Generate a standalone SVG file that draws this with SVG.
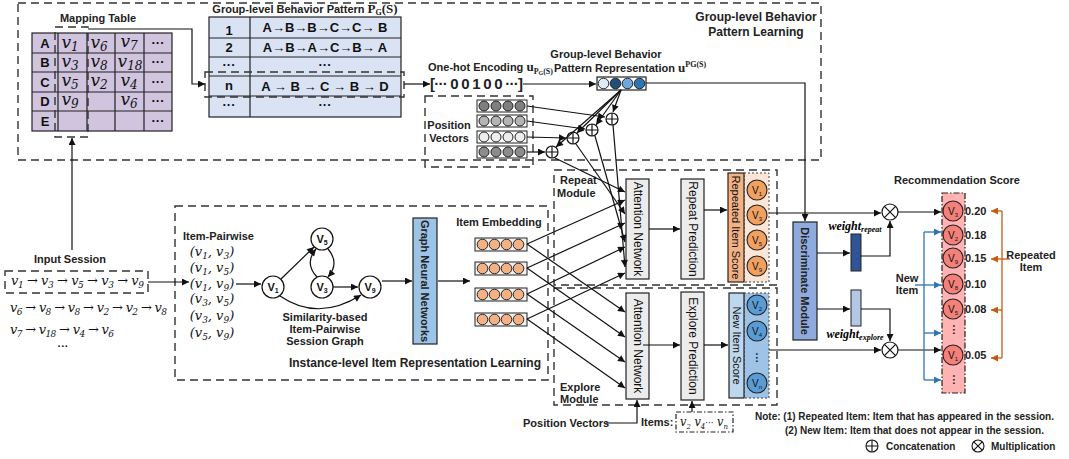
<svg xmlns="http://www.w3.org/2000/svg" width="1069" height="459" viewBox="0 0 1069 459">
<style>
.lbl{font-family:"Liberation Sans",Arial,sans-serif;font-weight:bold;font-size:11px;fill:#222}
.reg{font-family:"Liberation Sans",Arial,sans-serif;font-size:12px;fill:#111}
.m{font-family:"DejaVu Serif","Liberation Serif",serif;font-style:italic;font-size:13px;fill:#111}
.dash{fill:none;stroke:#333;stroke-width:1.4;stroke-dasharray:8,5}
.ln{fill:none;stroke:#111;stroke-width:1.2}
.bx{stroke:#222;stroke-width:1.2}
.cell{fill:none;stroke:#222;stroke-width:1.2}
.tc{font-family:"Liberation Sans",Arial,sans-serif;font-weight:bold;font-size:13px;fill:#111;text-anchor:middle}
.nd{fill:#fff;stroke:#111;stroke-width:1.2}
.nl{font-family:"Liberation Sans",Arial,sans-serif;font-weight:bold;font-size:11px;fill:#111;text-anchor:middle}
.cn{font-family:"Liberation Sans",Arial,sans-serif;font-size:10px;fill:#111;text-anchor:middle}
</style>
<defs>
<marker id="ah" viewBox="0 0 10 10" refX="10" refY="5" markerWidth="8" markerHeight="7" markerUnits="userSpaceOnUse" orient="auto"><path d="M0,0 L10,5 L0,10 z" fill="#111"/></marker>
<marker id="ao" viewBox="0 0 10 10" refX="10" refY="5" markerWidth="8" markerHeight="7" markerUnits="userSpaceOnUse" orient="auto"><path d="M0,0 L10,5 L0,10 z" fill="#c55a11"/></marker>
<marker id="ab" viewBox="0 0 10 10" refX="10" refY="5" markerWidth="8" markerHeight="7" markerUnits="userSpaceOnUse" orient="auto"><path d="M0,0 L10,5 L0,10 z" fill="#2e75b6"/></marker>
<g id="oplus"><circle r="6" fill="#fff" stroke="#111" stroke-width="1.2"/><path d="M-6,0 H6 M0,-6 V6" stroke="#111" stroke-width="1.2"/></g>
<g id="otimes"><circle r="8" fill="#fff" stroke="#111" stroke-width="1.2"/><path d="M-5.6,-5.6 L5.6,5.6 M-5.6,5.6 L5.6,-5.6" stroke="#111" stroke-width="1.2"/></g>
</defs>

<g id="group-level">
<rect x="18" y="3" width="803" height="157" class="dash"/>
<text x="756" y="21" class="lbl" style="font-size:12px" text-anchor="middle">Group-level Behavior</text>
<text x="756" y="36" class="lbl" style="font-size:12px" text-anchor="middle">Pattern Learning</text>
</g>

<g id="mapping-table">
<text x="98" y="22" class="lbl" text-anchor="middle">Mapping Table</text>
<rect x="32" y="33" width="140" height="98" fill="#d0c4de" stroke="#222" stroke-width="1.2"/>
<path class="cell" d="M32,53 H172 M32,72 H172 M32,92 H172 M32,111 H172 M58,33 V131 M87,33 V131 M115,33 V131 M144,33 V131"/>
<g class="tc"><text x="45" y="48">A</text><text x="45" y="67">B</text><text x="45" y="87">C</text><text x="45" y="106">D</text><text x="45" y="126">E</text>
<text x="158" y="47">···</text><text x="158" y="66">···</text><text x="158" y="86">···</text><text x="158" y="105">···</text><text x="158" y="125">···</text></g>
<g class="m" style="font-size:17px" text-anchor="middle">
<text x="70" y="48">v<tspan font-size="12" dy="3">1</tspan></text>
<text x="99" y="48">v<tspan font-size="12" dy="3">6</tspan></text>
<text x="129" y="47">v<tspan font-size="12" dy="3">7</tspan></text>
<text x="70" y="67">v<tspan font-size="12" dy="3">3</tspan></text>
<text x="99" y="67">v<tspan font-size="12" dy="3">8</tspan></text>
<text x="130" y="67">v<tspan font-size="12" dy="3">18</tspan></text>
<text x="70" y="86">v<tspan font-size="12" dy="3">5</tspan></text>
<text x="99" y="86">v<tspan font-size="12" dy="3">2</tspan></text>
<text x="129" y="86">v<tspan font-size="12" dy="3">4</tspan></text>
<text x="70" y="105">v<tspan font-size="12" dy="3">9</tspan></text>
<text x="129" y="105">v<tspan font-size="12" dy="3">6</tspan></text>
</g>
<rect x="55" y="27" width="33" height="110" class="dash" stroke-width="1.3" stroke-dasharray="6,4"/>
</g>

<g id="pattern-table">
<text x="305" y="13" class="lbl" text-anchor="middle">Group-level Behavior Pattern <tspan font-family="Liberation Serif" font-size="13">P</tspan><tspan font-family="Liberation Serif" font-size="8" dy="2">G</tspan><tspan font-family="Liberation Serif" font-size="13" dy="-2">(S)</tspan></text>
<rect x="209" y="17" width="192" height="100" fill="#dae3f3" stroke="#222" stroke-width="1.2"/>
<path class="cell" d="M209,38 H401 M209,57 H401 M209,76 H401 M209,96 H401 M250,17 V117"/>
<g class="tc"><text x="229" y="35">1</text><text x="229" y="52">2</text><text x="229" y="69">···</text><text x="229" y="90">n</text><text x="229" y="109">···</text>
<text x="325" y="32">A→B→B→C→C→ B</text><text x="325" y="52">A→B→A→C→B→ A</text><text x="325" y="69">···</text><text x="325" y="91">A → B → C → B → D</text><text x="325" y="109">···</text></g>
<rect x="205" y="72" width="199" height="25" class="dash" stroke-width="1.3" stroke-dasharray="7,4"/>
</g>

<g id="onehot">
<text x="428" y="71" class="lbl">One-hot Encoding <tspan font-family="Liberation Serif" font-size="13">u</tspan><tspan font-family="Liberation Serif" font-size="8" dy="3">P</tspan><tspan font-family="Liberation Serif" font-size="6" dy="1">G</tspan><tspan font-family="Liberation Serif" font-size="8" dy="-1">(S)</tspan></text>
<text x="430" y="89" class="lbl" style="font-size:15px" textLength="93" lengthAdjust="spacing">[··· 0 0 1 0 0 ···]</text>
</g>

<g id="pattern-rep">
<text x="606" y="58" class="lbl" text-anchor="middle">Group-level Behavior</text>
<text x="554" y="72" class="lbl">Pattern Representation <tspan font-family="Liberation Serif" font-size="13">u</tspan><tspan font-family="Liberation Serif" font-size="8" dy="-5">PG(S)</tspan></text>
<rect x="597" y="77" width="49" height="13" fill="#fff" stroke="#222" stroke-width="1.2"/>
<circle cx="603.5" cy="83.5" r="5.3" fill="#deebf7" stroke="#222"/>
<circle cx="615.5" cy="83.5" r="5.3" fill="#1f4e79" stroke="#222"/>
<circle cx="627.5" cy="83.5" r="5.3" fill="#6fa8dc" stroke="#222"/>
<circle cx="639.5" cy="83.5" r="5.3" fill="#2e75b6" stroke="#222"/>
</g>

<g id="position-vectors">
<rect x="425" y="96" width="108" height="71" class="dash" stroke-width="1.3" stroke-dasharray="6,4"/>
<text x="449" y="129" class="lbl" text-anchor="middle">Position</text>
<text x="449" y="142" class="lbl" text-anchor="middle">Vectors</text>
<g stroke="#222" stroke-width="1">
<rect x="477" y="100" width="50" height="12" fill="#fff"/>
<circle cx="484" cy="106" r="5" fill="#7f7f7f"/><circle cx="496" cy="106" r="5" fill="#7f7f7f"/><circle cx="508" cy="106" r="5" fill="#7f7f7f"/><circle cx="520" cy="106" r="5" fill="#7f7f7f"/>
<rect x="477" y="115" width="50" height="12" fill="#fff"/>
<circle cx="484" cy="121" r="5" fill="#b4b4b4"/><circle cx="496" cy="121" r="5" fill="#b4b4b4"/><circle cx="508" cy="121" r="5" fill="#b4b4b4"/><circle cx="520" cy="121" r="5" fill="#b4b4b4"/>
<rect x="477" y="131" width="50" height="12" fill="#fff"/>
<circle cx="484" cy="137" r="5" fill="#eeeeee"/><circle cx="496" cy="137" r="5" fill="#eeeeee"/><circle cx="508" cy="137" r="5" fill="#eeeeee"/><circle cx="520" cy="137" r="5" fill="#eeeeee"/>
<rect x="477" y="146" width="50" height="12" fill="#fff"/>
<circle cx="484" cy="152" r="5" fill="#8c8c8c"/><circle cx="496" cy="152" r="5" fill="#8c8c8c"/><circle cx="508" cy="152" r="5" fill="#8c8c8c"/><circle cx="520" cy="152" r="5" fill="#8c8c8c"/>
</g>
</g>

<g id="concat-nodes">
<use href="#oplus" x="552" y="152"/>
<use href="#oplus" x="573" y="138"/>
<use href="#oplus" x="592" y="130"/>
<use href="#oplus" x="612" y="119"/>
</g>

<g id="input-session">
<text x="70" y="263" class="lbl" text-anchor="middle">Input Session</text>
<rect x="5" y="271" width="143" height="22" class="dash" stroke-width="1.3" stroke-dasharray="7,4"/>
<text x="11" y="285" class="m" textLength="133" lengthAdjust="spacing">v<tspan font-size="9" dy="3">1</tspan><tspan dy="-3" font-style="normal"> → </tspan>v<tspan font-size="9" dy="3">3</tspan><tspan dy="-3" font-style="normal"> → </tspan>v<tspan font-size="9" dy="3">5</tspan><tspan dy="-3" font-style="normal"> → </tspan>v<tspan font-size="9" dy="3">3</tspan><tspan dy="-3" font-style="normal"> → </tspan>v<tspan font-size="9" dy="3">9</tspan></text>
<text x="10" y="312" class="m" textLength="157" lengthAdjust="spacing">v<tspan font-size="9" dy="3">6</tspan><tspan dy="-3" font-style="normal"> → </tspan>v<tspan font-size="9" dy="3">8</tspan><tspan dy="-3" font-style="normal"> → </tspan>v<tspan font-size="9" dy="3">8</tspan><tspan dy="-3" font-style="normal"> → </tspan>v<tspan font-size="9" dy="3">2</tspan><tspan dy="-3" font-style="normal"> → </tspan>v<tspan font-size="9" dy="3">2</tspan><tspan dy="-3" font-style="normal"> → </tspan>v<tspan font-size="9" dy="3">8</tspan></text>
<text x="10" y="334" class="m" textLength="104" lengthAdjust="spacing">v<tspan font-size="9" dy="3">7</tspan><tspan dy="-3" font-style="normal"> → </tspan>v<tspan font-size="9" dy="3">18</tspan><tspan dy="-3" font-style="normal"> → </tspan>v<tspan font-size="9" dy="3">4</tspan><tspan dy="-3" font-style="normal"> → </tspan>v<tspan font-size="9" dy="3">6</tspan></text>
<text x="63" y="350" class="lbl" text-anchor="middle">···</text>
</g>

<g id="instance-level">
<rect x="175" y="206" width="373" height="174" class="dash"/>
<text x="415" y="367" class="lbl" style="font-size:12px" text-anchor="middle">Instance-level Item Representation Learning</text>
</g>

<g id="item-pairwise">
<text x="183" y="240" class="lbl">Item-Pairwise</text>
<g class="m" text-anchor="middle">
<text x="212" y="256">(v<tspan font-size="9" dy="3">1</tspan><tspan dy="-3">, v</tspan><tspan font-size="9" dy="3">3</tspan><tspan dy="-3">)</tspan></text>
<text x="212" y="272">(v<tspan font-size="9" dy="3">1</tspan><tspan dy="-3">, v</tspan><tspan font-size="9" dy="3">5</tspan><tspan dy="-3">)</tspan></text>
<text x="212" y="288">(v<tspan font-size="9" dy="3">1</tspan><tspan dy="-3">, v</tspan><tspan font-size="9" dy="3">9</tspan><tspan dy="-3">)</tspan></text>
<text x="212" y="303">(v<tspan font-size="9" dy="3">3</tspan><tspan dy="-3">, v</tspan><tspan font-size="9" dy="3">5</tspan><tspan dy="-3">)</tspan></text>
<text x="212" y="320">(v<tspan font-size="9" dy="3">3</tspan><tspan dy="-3">, v</tspan><tspan font-size="9" dy="3">9</tspan><tspan dy="-3">)</tspan></text>
<text x="212" y="337">(v<tspan font-size="9" dy="3">5</tspan><tspan dy="-3">, v</tspan><tspan font-size="9" dy="3">9</tspan><tspan dy="-3">)</tspan></text>
</g>
</g>

<g id="node-v1"><circle cx="273" cy="287" r="11" class="nd"/><text x="273" y="291" class="nl">V<tspan font-size="7" dy="2">1</tspan></text></g>
<g id="node-v5"><circle cx="322" cy="239" r="11" class="nd"/><text x="322" y="243" class="nl">V<tspan font-size="7" dy="2">5</tspan></text></g>
<g id="node-v3"><circle cx="322" cy="287" r="11" class="nd"/><text x="322" y="291" class="nl">V<tspan font-size="7" dy="2">3</tspan></text></g>
<g id="node-v9"><circle cx="370" cy="287" r="11" class="nd"/><text x="370" y="291" class="nl">V<tspan font-size="7" dy="2">9</tspan></text></g>
<g id="graph-label">
<text x="325" y="321" class="lbl" text-anchor="middle">Similarity-based</text>
<text x="325" y="333" class="lbl" text-anchor="middle">Item-Pairwise</text>
<text x="325" y="345" class="lbl" text-anchor="middle">Session Graph</text>
</g>

<g id="gnn">
<rect x="413" y="218" width="24" height="126" fill="#9dc3e6" stroke="#222" stroke-width="1.2"/>
<text transform="translate(425,281) rotate(90)" class="lbl" text-anchor="middle" dy="4">Graph Neural Networks</text>
</g>

<g id="item-embedding">
<text x="499" y="226" class="lbl" text-anchor="middle">Item Embedding</text>
<g stroke="#222" stroke-width="1">
<rect x="475" y="238" width="52" height="13" fill="#f2f2f2"/>
<circle cx="482.5" cy="244.5" r="5.3" fill="#f4b183"/><circle cx="494.5" cy="244.5" r="5.3" fill="#f4b183"/><circle cx="506.5" cy="244.5" r="5.3" fill="#f4b183"/><circle cx="518.5" cy="244.5" r="5.3" fill="#f4b183"/>
<rect x="475" y="262" width="52" height="13" fill="#f2f2f2"/>
<circle cx="482.5" cy="268.5" r="5.3" fill="#f4b183"/><circle cx="494.5" cy="268.5" r="5.3" fill="#f4b183"/><circle cx="506.5" cy="268.5" r="5.3" fill="#f4b183"/><circle cx="518.5" cy="268.5" r="5.3" fill="#f4b183"/>
<rect x="475" y="288" width="52" height="13" fill="#f2f2f2"/>
<circle cx="482.5" cy="294.5" r="5.3" fill="#f4b183"/><circle cx="494.5" cy="294.5" r="5.3" fill="#f4b183"/><circle cx="506.5" cy="294.5" r="5.3" fill="#f4b183"/><circle cx="518.5" cy="294.5" r="5.3" fill="#f4b183"/>
<rect x="475" y="313" width="52" height="13" fill="#f2f2f2"/>
<circle cx="482.5" cy="319.5" r="5.3" fill="#f4b183"/><circle cx="494.5" cy="319.5" r="5.3" fill="#f4b183"/><circle cx="506.5" cy="319.5" r="5.3" fill="#f4b183"/><circle cx="518.5" cy="319.5" r="5.3" fill="#f4b183"/>
</g>
</g>

<g id="repeat-module">
<rect x="554" y="170" width="223" height="115" class="dash" stroke-width="1.3" stroke-dasharray="7,4"/>
<text x="560" y="184" class="lbl">Repeat</text>
<text x="557" y="197" class="lbl">Module</text>
</g>
<g id="repeat-attention">
<rect x="626" y="179" width="23" height="100" fill="#ececec" class="bx"/>
<text transform="translate(637.5,229) rotate(90)" class="reg" text-anchor="middle" dy="4">Attention Network</text>
</g>
<g id="repeat-prediction">
<rect x="681" y="179" width="23" height="100" fill="#ececec" class="bx"/>
<text transform="translate(692.5,229) rotate(90)" class="reg" text-anchor="middle" dy="4">Repeat Prediction</text>
</g>
<g id="repeated-item-score">
<rect x="744" y="173" width="25" height="109" fill="#fbe5d6" stroke="#444" stroke-width="1" stroke-dasharray="2,2"/>
<rect x="728" y="173" width="16" height="109" fill="#f4b183" class="bx"/>
<text transform="translate(736,227.5) rotate(90)" class="reg" style="font-size:11px" text-anchor="middle" dy="4">Repeated Item Score</text>
<g stroke="#222" stroke-width="1.1" fill="#f0a060">
<circle cx="757" cy="190" r="10"/><circle cx="757" cy="215" r="10"/><circle cx="757" cy="240" r="10"/><circle cx="757" cy="266" r="10"/></g>
<g class="cn"><text x="757" y="194">V<tspan font-size="6" dy="2">1</tspan></text><text x="757" y="219">V<tspan font-size="6" dy="2">3</tspan></text><text x="757" y="244">V<tspan font-size="6" dy="2">5</tspan></text><text x="757" y="270">V<tspan font-size="6" dy="2">9</tspan></text></g>
</g>

<g id="explore-module">
<rect x="554" y="288" width="223" height="117" class="dash" stroke-width="1.3" stroke-dasharray="7,4"/>
<text x="560" y="391" class="lbl">Explore</text>
<text x="560" y="403" class="lbl">Module</text>
</g>
<g id="explore-attention">
<rect x="626" y="293" width="23" height="106" fill="#ececec" class="bx"/>
<text transform="translate(637.5,346) rotate(90)" class="reg" text-anchor="middle" dy="4">Attention Network</text>
</g>
<g id="explore-prediction">
<rect x="681" y="292" width="23" height="108" fill="#ececec" class="bx"/>
<text transform="translate(692.5,346) rotate(90)" class="reg" text-anchor="middle" dy="4">Explore Prediction</text>
</g>
<g id="new-item-score">
<rect x="744" y="293" width="25" height="105" fill="#9dc3e6" stroke="#444" stroke-width="1" stroke-dasharray="2,2"/>
<rect x="729" y="293" width="15" height="105" fill="#bdd7ee" class="bx"/>
<text transform="translate(736.5,345.5) rotate(90)" class="reg" style="font-size:11px" text-anchor="middle" dy="4">New Item Score</text>
<g stroke="#222" stroke-width="1.1" fill="#5b9bd5">
<circle cx="757" cy="305" r="10"/><circle cx="757" cy="331" r="10"/><circle cx="757" cy="383" r="10"/></g>
<g class="cn"><text x="757" y="309">V<tspan font-size="6" dy="2">2</tspan></text><text x="757" y="335">V<tspan font-size="6" dy="2">4</tspan></text><text x="757" y="387">V<tspan font-size="6" dy="2">n</tspan></text></g>
<text x="757" y="362" class="lbl" text-anchor="middle" transform="rotate(90,757,358)">···</text>
</g>

<g id="position-vectors-bottom">
<text x="523" y="427" class="lbl">Position Vectors</text>
</g>
<g id="items-box">
<text x="641" y="426" class="lbl">Items:</text>
<rect x="676" y="412" width="57" height="20" fill="none" stroke="#222" stroke-width="1.2" stroke-dasharray="5,2,1.5,2"/>
<text x="680" y="426" class="m" textLength="48" lengthAdjust="spacingAndGlyphs">v<tspan font-size="8" dy="3">2</tspan><tspan dy="-3"> v</tspan><tspan font-size="8" dy="3">4</tspan><tspan dy="-3" font-style="normal" font-size="10">···</tspan><tspan> v</tspan><tspan font-size="8" dy="3">n</tspan></text>
</g>

<g id="discriminate">
<rect x="793" y="222" width="24" height="118" fill="#8faadc" stroke="#222" stroke-width="1.2"/>
<text transform="translate(805,281) rotate(90)" class="lbl" text-anchor="middle" dy="4">Discriminate Module</text>
</g>
<g id="weight-repeat">
<text x="855" y="230" font-family="Liberation Serif,serif" font-style="italic" font-weight="bold" font-size="12" text-anchor="middle">weight<tspan font-size="8" dy="2">repeat</tspan></text>
<rect x="851" y="234" width="10" height="37" fill="#2f5597" stroke="#222"/>
</g>
<g id="weight-explore">
<rect x="851" y="290" width="10" height="36" fill="#b4c7e7" stroke="#222"/>
<text x="855" y="338" font-family="Liberation Serif,serif" font-style="italic" font-weight="bold" font-size="12" text-anchor="middle">weight<tspan font-size="8" dy="2">explore</tspan></text>
</g>
<g id="mult-nodes">
<use href="#otimes" x="890" y="212"/>
<use href="#otimes" x="890" y="350"/>
</g>

<g id="recommendation">
<text x="957" y="184" class="lbl" text-anchor="middle">Recommendation Score</text>
<rect x="942" y="193" width="23" height="200" fill="#ffb3b3" stroke="#222" stroke-width="1.2" stroke-dasharray="6,2,1.5,2"/>
<g stroke="#222" stroke-width="1.1" fill="#f4807a">
<circle cx="953" cy="211" r="10"/><circle cx="953" cy="235" r="10"/><circle cx="953" cy="258" r="10"/><circle cx="953" cy="284" r="10"/><circle cx="953" cy="309" r="10"/><circle cx="953" cy="355" r="10"/></g>
<g class="cn"><text x="953" y="215">V<tspan font-size="6" dy="2">3</tspan></text><text x="953" y="239">V<tspan font-size="6" dy="2">2</tspan></text><text x="953" y="262">V<tspan font-size="6" dy="2">9</tspan></text><text x="953" y="288">V<tspan font-size="6" dy="2">8</tspan></text><text x="953" y="313">V<tspan font-size="6" dy="2">5</tspan></text><text x="953" y="359">V<tspan font-size="6" dy="2">1</tspan></text></g>
<text x="953" y="333" class="lbl" text-anchor="middle" transform="rotate(90,953,330)">···</text>
<text x="953" y="383" class="lbl" text-anchor="middle" transform="rotate(90,953,380)">···</text>
<g class="lbl"><text x="965" y="215">0.20</text><text x="965" y="239">0.18</text><text x="965" y="262">0.15</text><text x="965" y="288">0.10</text><text x="965" y="313">0.08</text><text x="965" y="359">0.05</text></g>
<text x="1031" y="259" class="lbl" text-anchor="middle">Repeated</text>
<text x="1031" y="271" class="lbl" text-anchor="middle">Item</text>
<text x="907" y="282" class="lbl" text-anchor="middle">New</text>
<text x="907" y="294" class="lbl" text-anchor="middle">Item</text>
</g>

<g id="notes">
<text x="755" y="420" class="lbl" style="font-size:10px">Note: (1) Repeated Item: Item that has appeared in the session.</text>
<text x="785" y="434" class="lbl" style="font-size:10px">(2) New Item: Item that does not appear in the session.</text>
<circle cx="872" cy="446" r="6" fill="#fff" stroke="#111" stroke-width="1.1"/><path d="M866,446 H878 M872,440 V452" stroke="#111" stroke-width="1.1"/>
<text x="886" y="450" class="lbl" style="font-size:10px">Concatenation</text>
<circle cx="978" cy="446" r="6" fill="#fff" stroke="#111" stroke-width="1.1"/><path d="M973.8,441.8 L982.2,450.2 M973.8,450.2 L982.2,441.8" stroke="#111" stroke-width="1.1"/>
<text x="991" y="450" class="lbl" style="font-size:10px">Multiplication</text>
</g>

<g id="connectors" class="ln">
<path d="M88,29 H192 V84 H205" marker-end="url(#ah)"/>
<path d="M404,84 H430" marker-end="url(#ah)"/>
<path d="M523,84 H596" marker-end="url(#ah)"/>
<path d="M646,83 H805 V221" marker-end="url(#ah)"/>
<path d="M72,250 V138" marker-end="url(#ah)"/>
<path d="M148,282 H189" marker-end="url(#ah)"/>
<path d="M236,284 H261" marker-end="url(#ah)"/>
<path d="M281,279 L314,247" marker-end="url(#ah)"/>
<path d="M317,277 Q304,263 316,249" marker-end="url(#ah)"/>
<path d="M328,249 Q340,263 328,277" marker-end="url(#ah)"/>
<path d="M333,287 H358" marker-end="url(#ah)"/>
<path d="M280,296 Q318,322 361,295" marker-end="url(#ah)"/>
<path d="M382,281 H412" marker-end="url(#ah)"/>
<path d="M438,281 H470" marker-end="url(#ah)"/>
<path d="M527,106 L605,117" marker-end="url(#ah)"/>
<path d="M527,121 L585,129" marker-end="url(#ah)"/>
<path d="M527,137 L566,138" marker-end="url(#ah)"/>
<path d="M527,152 L545,152" marker-end="url(#ah)"/>
<path d="M621,90 L613,112" marker-end="url(#ah)"/>
<path d="M621,90 L596,125" marker-end="url(#ah)"/>
<path d="M621,90 L577,133" marker-end="url(#ah)"/>
<path d="M621,90 L556,147" marker-end="url(#ah)"/>
<path d="M555,158 L625,192" marker-end="url(#ah)"/>
<path d="M576,144 L625,214" marker-end="url(#ah)"/>
<path d="M595,136 L625,242" marker-end="url(#ah)"/>
<path d="M613,125 L625,267" marker-end="url(#ah)"/>
<path d="M527,244 L625,200" marker-end="url(#ah)"/>
<path d="M527,244 L625,312" marker-end="url(#ah)"/>
<path d="M527,268 L625,223" marker-end="url(#ah)"/>
<path d="M527,268 L625,337" marker-end="url(#ah)"/>
<path d="M527,294 L625,247" marker-end="url(#ah)"/>
<path d="M527,294 L625,362" marker-end="url(#ah)"/>
<path d="M527,319 L625,273" marker-end="url(#ah)"/>
<path d="M527,319 L625,388" marker-end="url(#ah)"/>
<path d="M649,229 H680" marker-end="url(#ah)"/>
<path d="M704,210 H727" marker-end="url(#ah)"/>
<path d="M643,345 H680" marker-end="url(#ah)"/>
<path d="M704,345 H728" marker-end="url(#ah)"/>
<path d="M606,423 H637 V400" marker-end="url(#ah)"/>
<path d="M692,412 V401" marker-end="url(#ah)"/>
<path d="M769,213 H881" marker-end="url(#ah)"/>
<path d="M769,350 H881" marker-end="url(#ah)"/>
<path d="M817,253 H850" marker-end="url(#ah)"/>
<path d="M817,309 H850" marker-end="url(#ah)"/>
<path d="M861,256 H890 V221" marker-end="url(#ah)"/>
<path d="M861,309 H890 V341" marker-end="url(#ah)"/>
<path d="M898,212 H941" marker-end="url(#ah)"/>
<path d="M898,350 H941" marker-end="url(#ah)"/>
</g>
<g id="repeated-arrows" fill="none" stroke="#c55a11" stroke-width="1.3">
<path d="M1002,211 V358"/>
<path d="M1002,211 H991" marker-end="url(#ao)"/>
<path d="M1010,259 H991" marker-end="url(#ao)"/>
<path d="M1002,310 H991" marker-end="url(#ao)"/>
<path d="M1002,358 H991" marker-end="url(#ao)"/>
</g>
<g id="new-arrows" fill="none" stroke="#2e75b6" stroke-width="1.3">
<path d="M924,232 V380"/>
<path d="M924,232 H941" marker-end="url(#ab)"/>
<path d="M915,285 H941" marker-end="url(#ab)"/>
<path d="M924,333 H941" marker-end="url(#ab)"/>
<path d="M924,380 H941" marker-end="url(#ab)"/>
</g>
</svg>
